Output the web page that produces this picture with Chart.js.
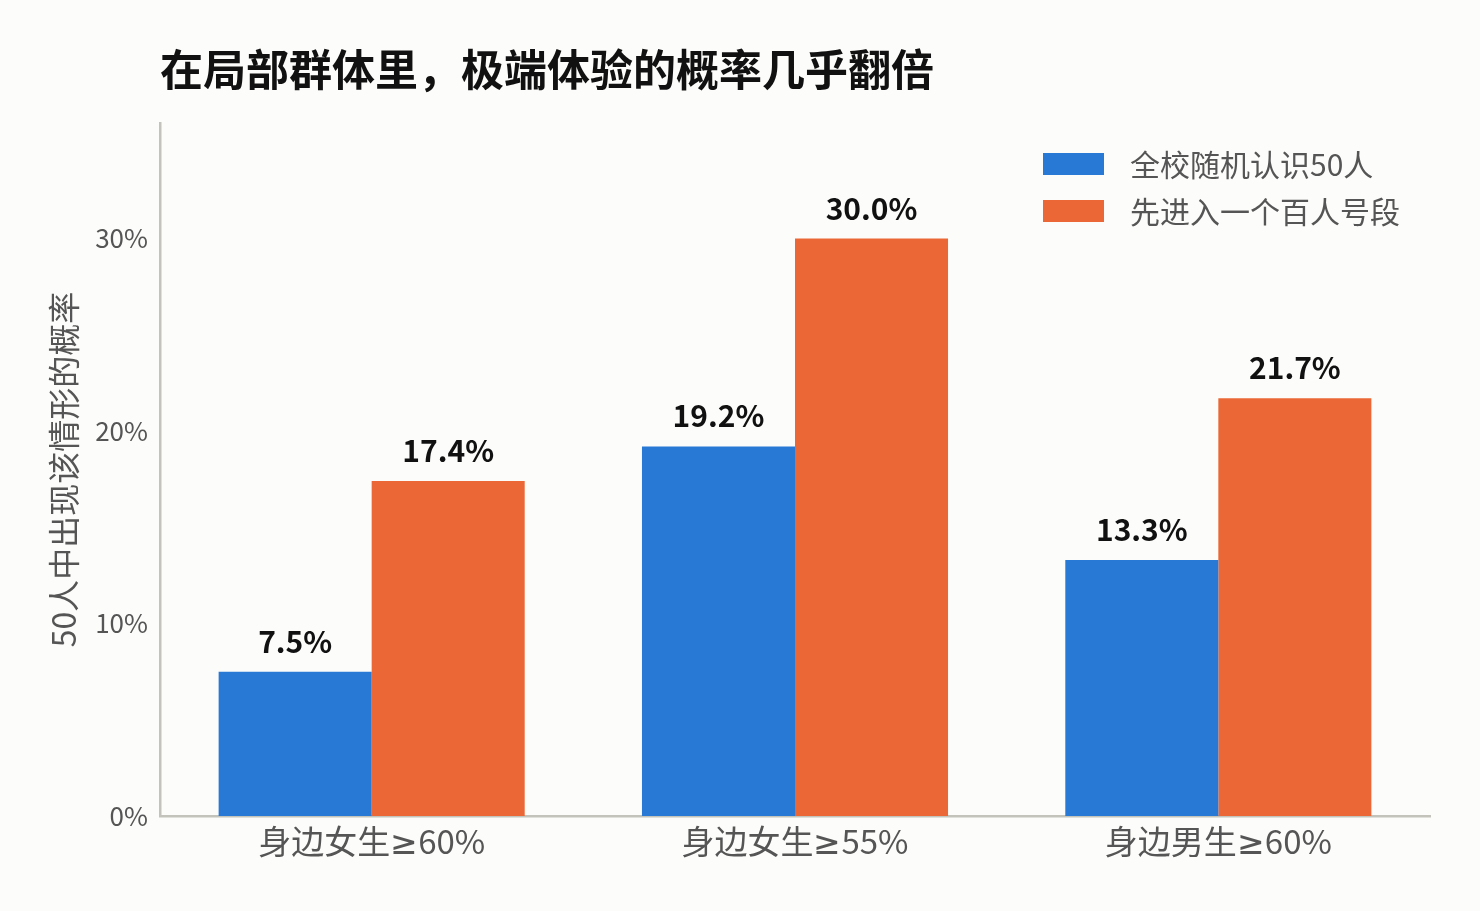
<!DOCTYPE html>
<html>
<head>
<meta charset="utf-8">
<script src="https://cdn.jsdelivr.net/npm/chart.js@4"></script>
<style>
  /* straight-bar ≥ only, everything else stays in the CJK font */
  @font-face {
    font-family: "GeSign";
    src: local("DejaVu Sans"), local("DejaVuSans");
    unicode-range: U+2265;
  }
  html, body { margin: 0; padding: 0; background: #fcfcfa; }
  #wrap { width: 1480px; height: 911px; }
</style>
</head>
<body>
<div id="wrap"><canvas id="myChart"></canvas></div>
<script>
var categories = ["身边女生≥60%", "身边女生≥55%", "身边男生≥60%"];
var seriesNames = ["全校随机认识50人", "先进入一个百人号段"];
var schoolValues = [7.5, 19.2, 13.3];
var blockValues = [17.4, 30.0, 21.7];
var yTicks = [0, 10, 20, 30];

var FONT = "'Noto Sans CJK SC', 'Noto Sans', sans-serif";
var CAT_FONT = "GeSign, 'Noto Sans CJK SC', 'Noto Sans', sans-serif";

// title, legend and the value labels on top of the bars
var decorations = {
  id: "decorations",
  afterDatasetsDraw: function(chart) {
    var ctx = chart.ctx, area = chart.chartArea;
    ctx.save();
    ctx.font = "bold 30px " + FONT;
    ctx.fillStyle = "#111111";
    ctx.textAlign = "center";
    ctx.textBaseline = "alphabetic";
    chart.data.datasets.forEach(function(ds, i) {
      chart.getDatasetMeta(i).data.forEach(function(bar, j) {
        ctx.fillText(ds.data[j].toFixed(1) + "%", bar.x, bar.y - 19);
      });
    });

    // title
    ctx.font = "bold 43px " + FONT;
    ctx.textAlign = "left";
    ctx.textBaseline = "middle";
    ctx.fillText("在局部群体里，极端体验的概率几乎翻倍", area.left, 70);

    // legend
    ctx.font = "30px " + FONT;
    chart.data.datasets.forEach(function(ds, i) {
      var x = area.right - 387, y = area.top + 30 + i * 47;
      ctx.fillStyle = ds.backgroundColor;
      ctx.fillRect(x, y, 61, 22);
      ctx.fillStyle = "#555555";
      ctx.fillText(ds.label, x + 87, y + 12);
    });
    ctx.restore();
  }
};

function draw() {
  new Chart("myChart", {
    type: "bar",
    data: {
      labels: categories,
      datasets: [{
        label: seriesNames[0],
        data: schoolValues,
        backgroundColor: "#2878d6"
      }, {
        label: seriesNames[1],
        data: blockValues,
        backgroundColor: "#eb6836"
      }]
    },
    plugins: [decorations],
    options: {
      responsive: true,
      maintainAspectRatio: false,
      animation: false,
      layout: { padding: { top: 123, right: 50, left: 0, bottom: 0 } },
      datasets: { bar: { categoryPercentage: 0.723, barPercentage: 1.0 } },
      plugins: {
        legend: { display: false },
        tooltip: { enabled: false }
      },
      scales: {
        x: {
          grid: { display: false, drawTicks: false },
          border: { display: true, color: "#c3c3bb", width: 2.5 },
          ticks: { color: "#555555", font: { family: CAT_FONT, size: 33 }, padding: 6 },
          afterFit: function(scale) { scale.height = 95; }
        },
        y: {
          min: 0,
          max: 36,
          grid: { display: false, drawTicks: false },
          border: { display: true, color: "#c3c3bb", width: 2.5 },
          afterBuildTicks: function(scale) {
            scale.ticks = yTicks.map(function(v) { return { value: v }; });
          },
          ticks: {
            color: "#555555",
            font: { family: FONT, size: 26 },
            padding: 12,
            callback: function(v) { return v + "%"; }
          },
          title: {
            display: true,
            text: "50人中出现该情形的概率",
            color: "#555555",
            font: { family: FONT, size: 32 },
            padding: { top: 45, bottom: 0 }
          },
          afterFit: function(scale) { scale.width = 160; }
        }
      }
    }
  });
}

document.fonts.load("33px GeSign", "≥").then(draw, draw);
</script>
</body>
</html>
